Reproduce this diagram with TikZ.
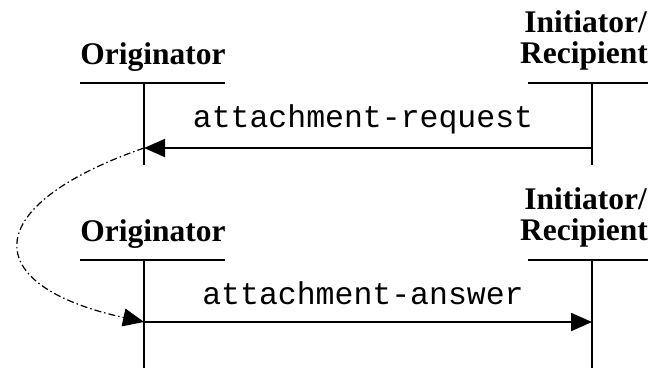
\documentclass[tikz,border=0pt]{standalone}
\usepackage{fontspec}
\setmainfont{Liberation Serif}
\setmonofont{Liberation Mono}
\usetikzlibrary{arrows.meta}
\begin{document}
\begin{tikzpicture}[x=1pt,y=-1pt,
  role/.style={font=\fontsize{31.5}{34}\selectfont\bfseries, inner sep=0pt, anchor=base},
  msg/.style={font=\fontsize{31.5}{34}\selectfont\ttfamily, inner sep=0pt, anchor=base},
  life/.style={line width=2pt},
  msgarrow/.style={line width=2pt, -{Triangle[length=21pt,width=18pt]}},
  loop/.style={line width=1.2pt, dash pattern=on 7pt off 3pt on 1.5pt off 3pt, -{Triangle[length=21pt,width=18pt]}}]
\useasboundingbox (0,0) rectangle (648,368);
% top section
\node[role] (o1) at (153,64) {Originator};
\node[role, anchor=base east] (i1) at (647,32) {Initiator/};
\node[role, anchor=base east] (r1) at (648,63) {Recipient};
\coordinate (o1hl) at (80,83); \coordinate (o1hr) at (225,83);
\coordinate (r1hl) at (528,83); \coordinate (r1hr) at (648,83);
\coordinate (o1t) at (144,83); \coordinate (o1b) at (144,165);
\coordinate (r1t) at (592,83); \coordinate (r1b) at (592,165);
\coordinate (o1m) at (144,148); \coordinate (r1m) at (592,148);
\draw[life] (o1hl) -- (o1hr);
\draw[life] (r1hl) -- (r1hr);
\draw[life] (o1t) -- (o1b);
\draw[life] (r1t) -- (r1b);
\draw[msgarrow] (r1m) -- (o1m);
\node[msg] (m1) at (363,127) {attachment-request};
% bottom section
\node[role] (o2) at (153,241) {Originator};
\node[role, anchor=base east] (i2) at (647,209) {Initiator/};
\node[role, anchor=base east] (r2) at (648,240) {Recipient};
\coordinate (o2hl) at (80,260); \coordinate (o2hr) at (225,260);
\coordinate (r2hl) at (528,260); \coordinate (r2hr) at (648,260);
\coordinate (o2t) at (144,260); \coordinate (o2b) at (144,368);
\coordinate (r2t) at (592,260); \coordinate (r2b) at (592,368);
\coordinate (o2m) at (144,322); \coordinate (r2m) at (592,322);
\draw[life] (o2hl) -- (o2hr);
\draw[life] (r2hl) -- (r2hr);
\draw[life] (o2t) -- (o2b);
\draw[life] (r2t) -- (r2b);
\draw[msgarrow] (o2m) -- (r2m);
\node[msg] (m2) at (363,304) {attachment-answer};
% loop-back curve
\draw[loop] (o1m) .. controls (-20,205) and (-24,285) .. (o2m);
\end{tikzpicture}
\end{document}
